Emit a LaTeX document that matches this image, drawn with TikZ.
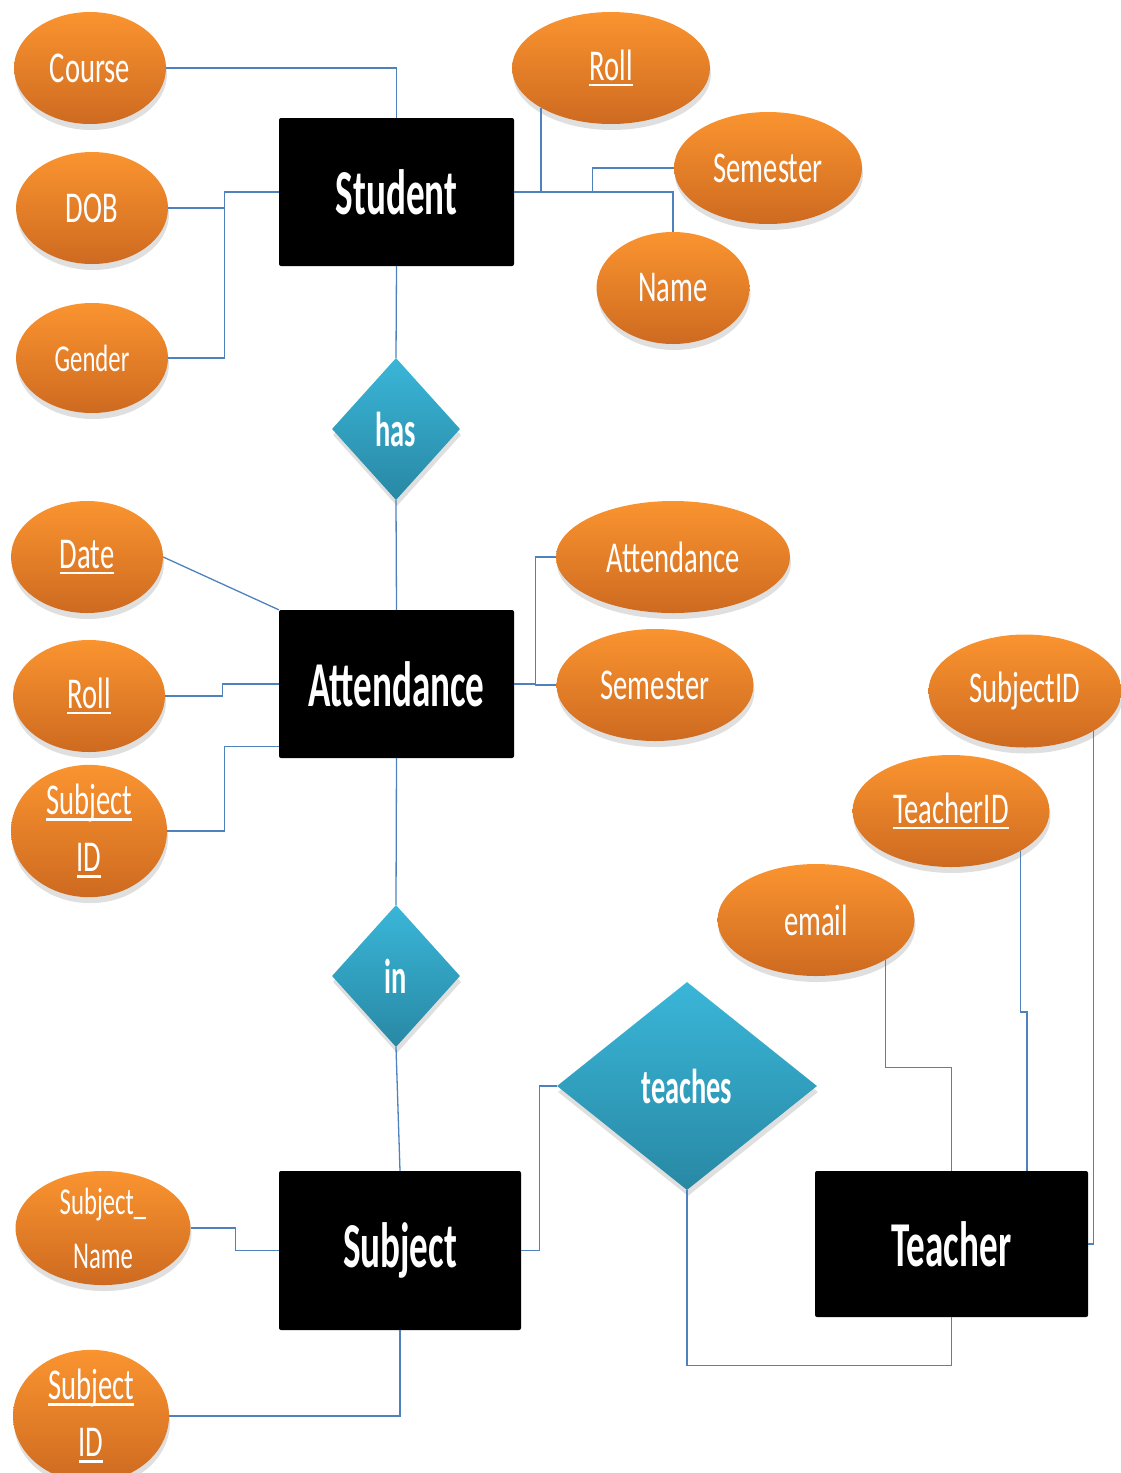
\documentclass[tikz,border=0pt]{standalone}
\usepackage{fontspec}
\usetikzlibrary{shapes.geometric,shadows}
\newfontfamily\attrfont[FakeStretch=0.65]{Carlito}
\newfontfamily\entfont[FakeStretch=0.58]{Carlito}
\definecolor{orangetop}{RGB}{250,148,48}
\definecolor{orangebot}{RGB}{206,106,32}
\definecolor{tealtop}{RGB}{58,182,216}
\definecolor{tealbot}{RGB}{40,136,164}
\definecolor{linkblue}{RGB}{79,129,189}
% key attributes: text with a solid underline
\newcommand{\keyattr}[1]{\setbox0\hbox{#1}\rlap{\rule[-6pt]{\wd0}{2.5pt}}\box0}
\begin{document}
\begin{tikzpicture}[x=1pt,y=-1pt,
  attr/.style={ellipse, top color=orangetop, bottom color=orangebot, text=white,
    inner sep=0pt, minimum width=152pt, minimum height=112pt, align=center,
    font=\attrfont\fontsize{44}{57}\selectfont,
    drop shadow={shadow xshift=1pt, shadow yshift=-6pt, opacity=0.25}},
  smalltext/.style={font=\attrfont\fontsize{38}{54}\selectfont},
  entity/.style={rectangle, fill=black, rounded corners=2pt, text=white,
    inner sep=0pt, font=\entfont\bfseries\fontsize{64}{70}\selectfont},
  rel/.style={diamond, top color=tealtop, bottom color=tealbot, text=white,
    inner sep=0pt, font=\entfont\bfseries\fontsize{49}{55}\selectfont,
    drop shadow={shadow xshift=1pt, shadow yshift=-6pt, opacity=0.25}},
  link/.style={draw=linkblue, line width=1.3pt}]
\useasboundingbox (0,0) rectangle (1121,1473);

% entities
\node[entity, minimum width=235pt, minimum height=148pt] (student) at (396.5,192) {Student};
\node[entity, minimum width=235pt, minimum height=148pt] (att) at (396.5,684) {Attendance};
\node[entity, minimum width=242pt, minimum height=159pt] (subject) at (400,1250.5) {Subject};
\node[entity, minimum width=273pt, minimum height=146pt] (teacher) at (951.5,1244) {Teacher};

% relationships
\node[rel, minimum width=128pt, minimum height=142pt] (has) at (396,429) {has};
\node[rel, minimum width=128pt, minimum height=142pt] (inrel) at (396,976) {in};
\node[rel, minimum width=260pt, minimum height=208pt] (teaches) at (687,1086) {teaches};

% attributes
\node[attr] (course) at (90,68) {Course};
\node[attr] (dob) at (92,208) {DOB};
\node[attr, smalltext, minimum height=110pt] (gender) at (92,358) {Gender};
\node[attr, minimum width=198pt] (roll1) at (611,68) {\keyattr{Roll}};
\node[attr, minimum width=188pt] (sem1) at (768,168) {Semester};
\node[attr, minimum width=153pt] (name) at (673,288) {Name};
\node[attr] (date) at (87,557) {\keyattr{Date}};
\node[attr] (roll2) at (89,696) {\keyattr{Roll}};
\node[attr, minimum width=156pt, minimum height=114pt] (sid1) at (89,831) {\keyattr{Subject}\\\keyattr{ID}};
\node[attr, minimum width=234pt] (attattr) at (673,557) {Attendance};
\node[attr, minimum width=197pt] (sem2) at (655,685) {Semester};
\node[attr, minimum width=193pt, minimum height=113pt] (subid) at (1025,691) {SubjectID};
\node[attr, minimum width=197pt] (tid) at (951,811) {\keyattr{TeacherID}};
\node[attr, minimum width=197pt] (email) at (816,920) {email};
\node[attr, smalltext, minimum width=175pt] (sname) at (103,1228) {Subject\_\\Name};
\node[attr, minimum width=156pt, minimum height=115pt] (sid2) at (91,1416) {\keyattr{Subject}\\\keyattr{ID}};

% Student links
\draw[link] (course.east) -| (student.north);
\draw[link] (dob.east) -- ++(56,0) |- (student.west);
\draw[link] (gender.east) -- ++(56,0) |- (student.west);
\draw[link] (student.east) -| (roll1.south west);
\draw[link] (sem1.west) -- ++(-81,0) |- (student.east);
\draw[link] (student.east) -| (name.north);
\draw[link] (student.south) -- (has.north);
\draw[link] (has.south) -- (att.north);

% Attendance links
\draw[link] (date.east) -- (att.north west);
\draw[link] (roll2.east) -- ++(57,0) |- (att.west);
\draw[link] (sid1.east) -- ++(57,0) |- ([yshift=12pt]att.south west);
\draw[link] (att.east) -- ++(21,0) |- (attattr.west);
\draw[link] (att.east) -- ++(21,0) |- (sem2.west);
\draw[link] (att.south) -- (inrel.north);
\draw[link] (inrel.south) -- (subject.north);

% Subject links
\draw[link] (sname.east) -- ++(45,0) |- (subject.west);
\draw[link] (sid2.east) -| (subject.south);
\draw[link] (subject.east) -- ++(18,0) |- (teaches.west);
\draw[link] (teaches.south) -- ++(0,175) -| (teacher.south);

% Teacher links
\draw[link] (email.south east) -- ++(0,108) -| (teacher.north);
\coordinate (tj) at (1027,1012);
\draw[link] (tid.south east) |- (tj) -- (tj |- teacher.north);
\draw[link] (subid.south east) |- (teacher.east);
\end{tikzpicture}
\end{document}
